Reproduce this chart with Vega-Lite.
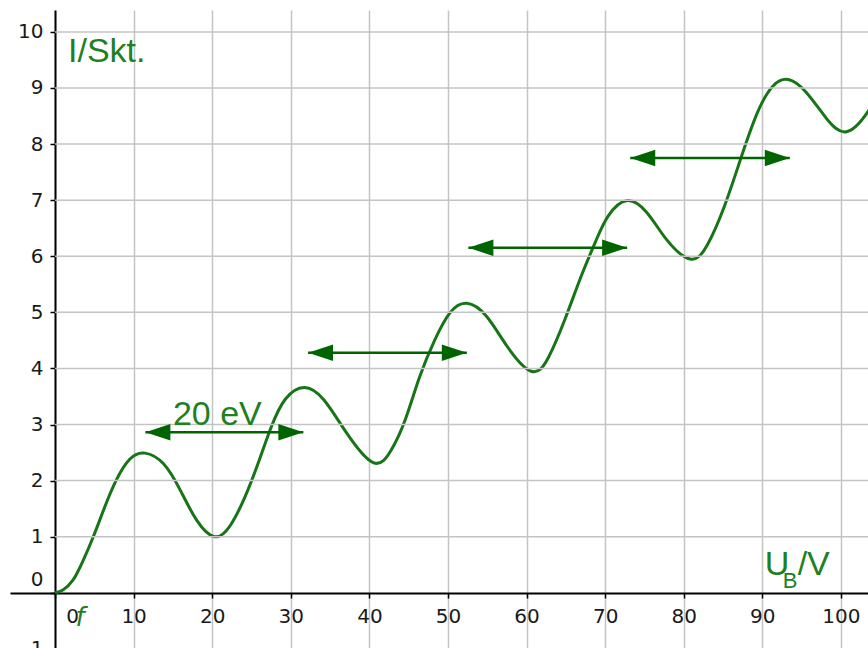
{
  "$schema": "https://vega.github.io/schema/vega-lite/v6.json",
  "width": 858,
  "height": 640,
  "autosize": {"type": "none"},
  "padding": {"left": 10, "top": 10, "right": 0, "bottom": 0},
  "background": "white",
  "config": {"view": {"stroke": null}},
  "datasets": {
    "curve": [
      {"U": 0, "I": 0}, {"U": 1.0, "I": 0.05}, {"U": 2.3, "I": 0.23}, {"U": 3.5, "I": 0.55},
      {"U": 4.87, "I": 1.0}, {"U": 6.3, "I": 1.52}, {"U": 7.76, "I": 2.0}, {"U": 9.5, "I": 2.38},
      {"U": 11.45, "I": 2.49}, {"U": 13.8, "I": 2.3}, {"U": 15.9, "I": 1.84}, {"U": 18.0, "I": 1.3},
      {"U": 20.3, "I": 1.0}, {"U": 22.3, "I": 1.2}, {"U": 24.2, "I": 1.72}, {"U": 25.9, "I": 2.33},
      {"U": 27.5, "I": 2.95}, {"U": 29.3, "I": 3.45}, {"U": 31.7, "I": 3.66}, {"U": 34.2, "I": 3.44},
      {"U": 37.1, "I": 2.85}, {"U": 40.5, "I": 2.32}, {"U": 42.8, "I": 2.55}, {"U": 44.6, "I": 3.1},
      {"U": 46.4, "I": 3.85}, {"U": 48.3, "I": 4.5}, {"U": 50.25, "I": 4.99}, {"U": 52.4, "I": 5.16},
      {"U": 54.9, "I": 4.93}, {"U": 57.5, "I": 4.4}, {"U": 60.6, "I": 3.95}, {"U": 62.8, "I": 4.2},
      {"U": 64.9, "I": 4.88}, {"U": 67.0, "I": 5.66}, {"U": 68.9, "I": 6.3}, {"U": 70.4, "I": 6.72},
      {"U": 72.7, "I": 6.99}, {"U": 75.3, "I": 6.78}, {"U": 77.8, "I": 6.3}, {"U": 80.8, "I": 5.95},
      {"U": 83.0, "I": 6.2}, {"U": 85.2, "I": 6.9}, {"U": 87.4, "I": 7.8}, {"U": 89.5, "I": 8.6},
      {"U": 91.4, "I": 9.04}, {"U": 93.3, "I": 9.15}, {"U": 95.6, "I": 8.92}, {"U": 98.2, "I": 8.45},
      {"U": 100.7, "I": 8.22}, {"U": 103.4, "I": 8.57}, {"U": 105.5, "I": 9.1}
    ],
    "grid": [
      {"I": -1}, {"I": 1}, {"I": 2}, {"I": 3}, {"I": 4}, {"I": 5}, {"I": 6}, {"I": 7}, {"I": 8}, {"I": 9}, {"I": 10}
    ],
    "arrows": [
      {"U1": 11.5, "U2": 31.6, "I": 2.86},
      {"U1": 32.2, "U2": 52.4, "I": 4.28},
      {"U1": 52.6, "U2": 72.8, "I": 6.15},
      {"U1": 73.2, "U2": 93.5, "I": 7.75}
    ],
    "labels": [
      {"U": 1.65, "I": 9.47, "text": "I/Skt."},
      {"U": 15.0, "I": 3.0, "text": "20 eV"},
      {"U": 90.3, "I": 0.32, "text": "U"},
      {"U": 94.5, "I": 0.32, "text": "/V"}
    ],
    "sub": [
      {"U": 92.6, "I": 0.09, "text": "B"}
    ],
    "fname": [
      {"U": 2.6, "I": -0.6, "text": "f"}
    ]
  },
  "layer": [
    {
      "data": {"name": "curve"},
      "mark": {"type": "line", "color": "#177517", "strokeWidth": 3, "interpolate": "natural", "clip": true},
      "encoding": {
        "x": {
          "field": "U", "type": "quantitative",
          "scale": {"domain": [-5.73, 103.45], "nice": false, "zero": false},
          "axis": {
            "orient": "bottom", "offset": -57, "title": null,
            "values": [0, 10, 20, 30, 40, 50, 60, 70, 80, 90, 100],
            "grid": true, "gridColor": "#c4c4c4", "gridWidth": 1.5,
            "domainColor": "#000000", "domainWidth": 2,
            "tickColor": "#000000", "tickWidth": 1.5, "tickSize": 5,
            "labelFont": "DejaVu Sans", "labelFontSize": 20, "labelColor": "#1a1a1a",
            "labelPadding": 8, "labelOverlap": false,
            "labelOffset": {"condition": {"test": "datum.value == 0", "value": 17}, "value": 0}
          }
        },
        "y": {
          "field": "I", "type": "quantitative",
          "scale": {"domain": [-1.02, 10.39], "nice": false, "zero": false},
          "axis": {
            "orient": "left", "offset": -45, "title": null,
            "values": [-1, 0, 1, 2, 3, 4, 5, 6, 7, 8, 9, 10],
            "grid": false,
            "domainColor": "#000000", "domainWidth": 2,
            "tickColor": "#000000", "tickWidth": 1.5, "tickSize": 5,
            "labelFont": "DejaVu Sans", "labelFontSize": 20, "labelColor": "#1a1a1a",
            "labelPadding": 7, "labelOverlap": false,
            "labelOffset": {"condition": {"test": "datum.value == 0", "value": -13}, "value": 0}
          }
        }
      }
    },
    {
      "data": {"name": "grid"},
      "mark": {"type": "rule", "color": "#c4c4c4", "strokeWidth": 1.5, "clip": true},
      "encoding": {
        "y": {"field": "I", "type": "quantitative"},
        "x": {"datum": 0, "type": "quantitative"},
        "x2": {"datum": 110}
      }
    },
    {
      "data": {"name": "arrows"},
      "mark": {"type": "rule", "color": "#006400", "strokeWidth": 2.5},
      "encoding": {
        "x": {"field": "U1", "type": "quantitative"},
        "x2": {"field": "U2"},
        "y": {"field": "I", "type": "quantitative"}
      }
    },
    {
      "data": {"name": "arrows"},
      "mark": {"type": "point", "shape": "M0,0L2,-0.66L2,0.66Z", "filled": true, "color": "#006400", "opacity": 1, "size": 625},
      "encoding": {
        "x": {"field": "U1", "type": "quantitative"},
        "y": {"field": "I", "type": "quantitative"}
      }
    },
    {
      "data": {"name": "arrows"},
      "mark": {"type": "point", "shape": "M0,0L-2,-0.66L-2,0.66Z", "filled": true, "color": "#006400", "opacity": 1, "size": 625},
      "encoding": {
        "x": {"field": "U2", "type": "quantitative"},
        "y": {"field": "I", "type": "quantitative"}
      }
    },
    {
      "data": {"name": "labels"},
      "mark": {"type": "text", "align": "left", "baseline": "alphabetic", "font": "Liberation Sans", "fontSize": 34, "color": "#1f801f"},
      "encoding": {
        "x": {"field": "U", "type": "quantitative"},
        "y": {"field": "I", "type": "quantitative"},
        "text": {"field": "text"}
      }
    },
    {
      "data": {"name": "sub"},
      "mark": {"type": "text", "align": "left", "baseline": "alphabetic", "font": "Liberation Sans", "fontSize": 22, "color": "#1f801f"},
      "encoding": {
        "x": {"field": "U", "type": "quantitative"},
        "y": {"field": "I", "type": "quantitative"},
        "text": {"field": "text"}
      }
    },
    {
      "data": {"name": "fname"},
      "mark": {"type": "text", "align": "left", "baseline": "alphabetic", "font": "DejaVu Sans", "fontSize": 26, "fontStyle": "italic", "color": "#1f801f"},
      "encoding": {
        "x": {"field": "U", "type": "quantitative"},
        "y": {"field": "I", "type": "quantitative"},
        "text": {"field": "text"}
      }
    }
  ]
}
